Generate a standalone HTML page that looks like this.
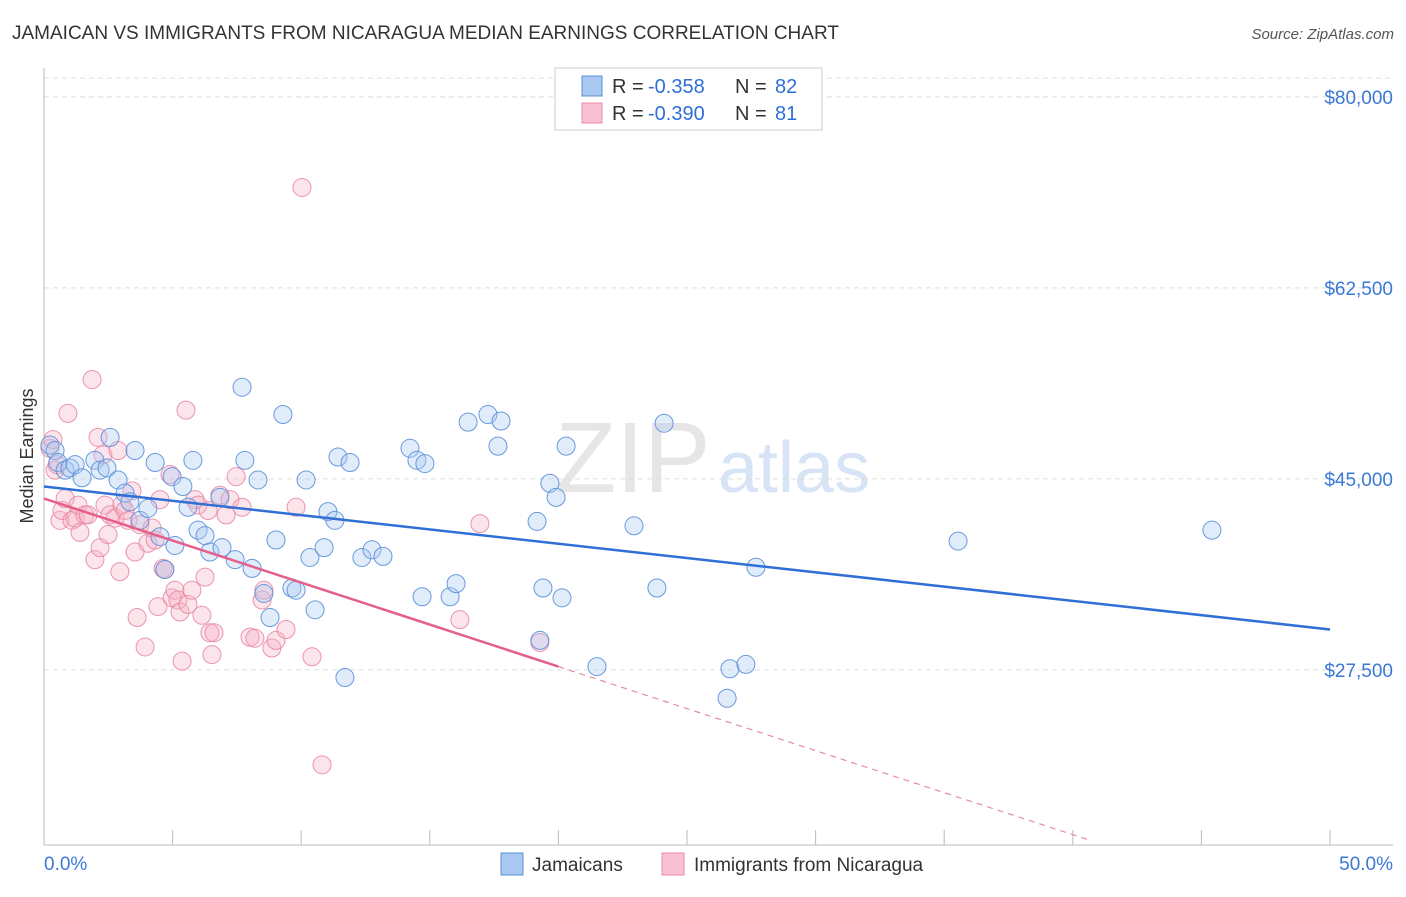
<!DOCTYPE html>
<html><head><meta charset="utf-8"><style>
body{margin:0;background:#fff;font-family:"Liberation Sans",sans-serif}
svg text{font-family:"Liberation Sans",sans-serif}
</style></head><body>
<svg width="1406" height="892" id="c">
<text x="12" y="39" font-size="19" fill="#333">JAMAICAN VS IMMIGRANTS FROM NICARAGUA MEDIAN EARNINGS CORRELATION CHART</text>
<text x="1394" y="39" font-size="15" fill="#555" font-style="italic" text-anchor="end">Source: ZipAtlas.com</text>
<text x="33" y="456" font-size="18" fill="#333" transform="rotate(-90 33 456)" text-anchor="middle">Median Earnings</text>
<text x="555" y="492" font-size="100" fill="#e6e6e6" font-family="Liberation Serif">ZIP</text>
<text x="718" y="492" font-size="72" fill="#d6e4f5">atlas</text>
<g id="grid"></g><g id="axes"></g><g id="pts"></g><g id="trend"></g>
<g>
<rect x="555" y="68" width="267" height="62" fill="#fff" stroke="#ccc"/>
<rect x="582" y="76" width="20" height="20" fill="#a9c8f0" stroke="#5b8fd9"/>
<rect x="582" y="103" width="20" height="20" fill="#f8c0d0" stroke="#e88aa6"/>
<text x="612" y="93" font-size="20" fill="#333">R =</text>
<text x="648" y="93" font-size="20" fill="#2f6fd6">-0.358</text>
<text x="735" y="93" font-size="20" fill="#333">N =</text>
<text x="775" y="93" font-size="20" fill="#2f6fd6">82</text>
<text x="612" y="120" font-size="20" fill="#333">R =</text>
<text x="648" y="120" font-size="20" fill="#2f6fd6">-0.390</text>
<text x="735" y="120" font-size="20" fill="#333">N =</text>
<text x="775" y="120" font-size="20" fill="#2f6fd6">81</text>
</g>
<g>
<rect x="501" y="853" width="22" height="22" fill="#a9c8f0" stroke="#5b8fd9"/>
<text x="532" y="871" font-size="19" fill="#333">Jamaicans</text>
<rect x="662" y="853" width="22" height="22" fill="#f8c0d0" stroke="#e88aa6"/>
<text x="694" y="871" font-size="19" fill="#333">Immigrants from Nicaragua</text>
</g>
</svg>
<script>
const yTicks=[80000,62500,45000,27500];
const yTickLabels=["$80,000","$62,500","$45,000","$27,500"];
const xTickLabels=["0.0%","50.0%"];
const blueX=[0.23,0.43,0.54,0.82,1.01,1.21,1.48,1.98,2.18,2.45,2.57,2.88,3.15,3.34,3.54,3.73,4.04,4.32,4.51,4.70,4.98,5.09,5.4,5.6,5.79,5.99,6.26,6.45,6.84,6.92,7.43,7.7,7.81,8.09,8.32,8.55,8.79,9.02,9.29,9.64,9.8,10.34,10.54,10.19,11.04,11.31,10.89,11.43,11.70,11.9,12.36,12.75,13.18,14.23,14.5,14.81,14.7,15.79,16.02,16.49,17.26,17.65,17.77,19.17,19.28,19.4,19.67,19.91,20.14,20.3,21.5,22.94,23.83,24.11,26.56,26.67,27.29,27.68,35.54,45.41];
const blueY=[48.1,47.6,46.5,45.8,46.0,46.3,45.1,46.7,45.8,46.0,48.8,44.9,43.7,42.9,47.6,41.2,42.3,46.5,39.7,36.7,45.2,38.9,44.3,42.4,46.7,40.3,39.8,38.3,43.3,38.7,37.6,53.4,46.7,36.8,44.9,34.5,32.3,39.4,50.9,35.0,34.8,37.8,33.0,44.9,42.0,41.2,38.7,47.0,26.8,46.5,37.8,38.5,37.9,47.8,46.7,46.4,34.2,34.2,35.4,50.2,50.9,48.0,50.3,41.1,30.2,35.0,44.6,43.3,34.1,48.0,27.8,40.7,35.0,50.1,24.9,27.6,28.0,36.9,39.3,40.3];
const pinkX=[0.23,0.35,0.43,0.51,0.62,0.70,0.82,0.93,1.09,1.21,1.32,1.4,1.59,1.71,1.87,1.98,2.10,2.18,2.29,2.37,2.49,2.57,2.76,2.88,2.95,3.03,3.15,3.27,3.42,3.54,3.62,3.73,3.93,4.04,4.2,4.32,4.43,4.51,4.63,4.7,4.9,4.98,5.09,5.21,5.29,5.37,5.52,5.6,5.75,5.87,5.99,6.14,6.26,6.38,6.45,6.53,6.61,6.84,7.08,7.23,7.47,7.7,8.01,8.2,8.48,8.55,8.86,9.02,9.41,9.8,10.03,10.42,10.81,16.17,16.95,19.28];
const pinkY=[47.8,48.6,45.8,46.3,41.2,42.1,43.2,51.0,41.2,41.4,42.6,40.1,41.7,41.7,54.1,37.6,48.8,38.7,47.2,42.6,39.9,41.7,41.4,47.6,36.5,42.6,42.1,41.2,43.9,38.3,32.3,40.8,29.6,39.1,40.5,39.4,33.3,43.1,36.8,36.7,45.4,34.1,34.8,33.9,32.8,28.3,51.3,33.5,34.8,43.1,42.6,32.5,36.0,42.1,30.9,28.9,30.9,43.5,41.7,43.1,45.2,42.4,30.5,30.4,33.9,34.8,29.5,30.2,31.2,42.4,71.7,28.7,18.8,32.1,40.9,30.0];
const blueTrend=[44.3,31.2];
const pinkTrend=[43.2,27.8];
const NS="http://www.w3.org/2000/svg";
const X0=44,X1=1330,YT=970,PPK=10.914;
const xs=p=>X0+(X1-X0)*p/50;
const ys=v=>YT-v/1000*PPK;
const ysk=k=>YT-k*PPK;
function mk(t,a,parent){const e=document.createElementNS(NS,t);for(const k in a)e.setAttribute(k,a[k]);document.getElementById(parent).appendChild(e);return e;}
yTicks.forEach((v,i)=>{
 const l=mk('line',{x1:44,x2:1393,y1:ys(v),y2:ys(v),stroke:'#ddd','stroke-dasharray':'5,4'},'grid');
 
 
 const t=mk('text',{x:1393,y:ys(v)+7,'font-size':19,fill:'#3a78d6','text-anchor':'end'},'grid');
 t.textContent=yTickLabels[i];
 
 
});
let g=mk('line',{x1:44,x2:1393,y1:78,y2:78,stroke:'#ddd','stroke-dasharray':'5,4'},'grid');


let ax=mk('line',{x1:44,x2:44,y1:68,y2:845,stroke:'#bbb'},'axes');


ax=mk('line',{x1:44,x2:1393,y1:845,y2:845,stroke:'#bbb'},'axes');


for(let i=0;i<=10;i++){const tk=mk('line',{x1:xs(i*5),x2:xs(i*5),y1:830,y2:845,stroke:'#bbb'},'axes');
 
 }
[[0,'start',44],[50,'end',1393]].forEach((d,i)=>{const t=mk('text',{x:d[2],y:870,'font-size':19,fill:'#3a78d6','text-anchor':d[1]},'axes');t.textContent=xTickLabels[i];
 
 });
function pts(X,Y,fill,stroke,name){X.forEach((x,i)=>{const c=mk('circle',{cx:xs(x),cy:ysk(Y[i]),r:9,fill:fill,'fill-opacity':0.35,stroke:stroke,'stroke-width':1,'stroke-opacity':0.9},'pts');
 
 });}
pts(pinkX,pinkY,'#f6b3c7','#e88aa6','point-nicaragua');
pts(blueX,blueY,'#a9c8f0','#5b8fd9','point-jamaican');
let l=mk('line',{x1:xs(0),y1:ysk(blueTrend[0]),x2:xs(50),y2:ysk(blueTrend[1]),stroke:'#2f6fd6','stroke-width':2.5},'trend');


const slope=(pinkTrend[1]-pinkTrend[0])/20;
l=mk('line',{x1:xs(0),y1:ysk(pinkTrend[0]),x2:xs(20),y2:ysk(pinkTrend[1]),stroke:'#e4608a','stroke-width':2.5},'trend');


const pEnd=40.7;
l=mk('line',{x1:xs(20),y1:ysk(pinkTrend[1]),x2:xs(pEnd),y2:ysk(pinkTrend[0]+slope*pEnd),stroke:'#e88aa6','stroke-width':1.2,'stroke-dasharray':'6,5'},'trend');


</script>
</body></html>
